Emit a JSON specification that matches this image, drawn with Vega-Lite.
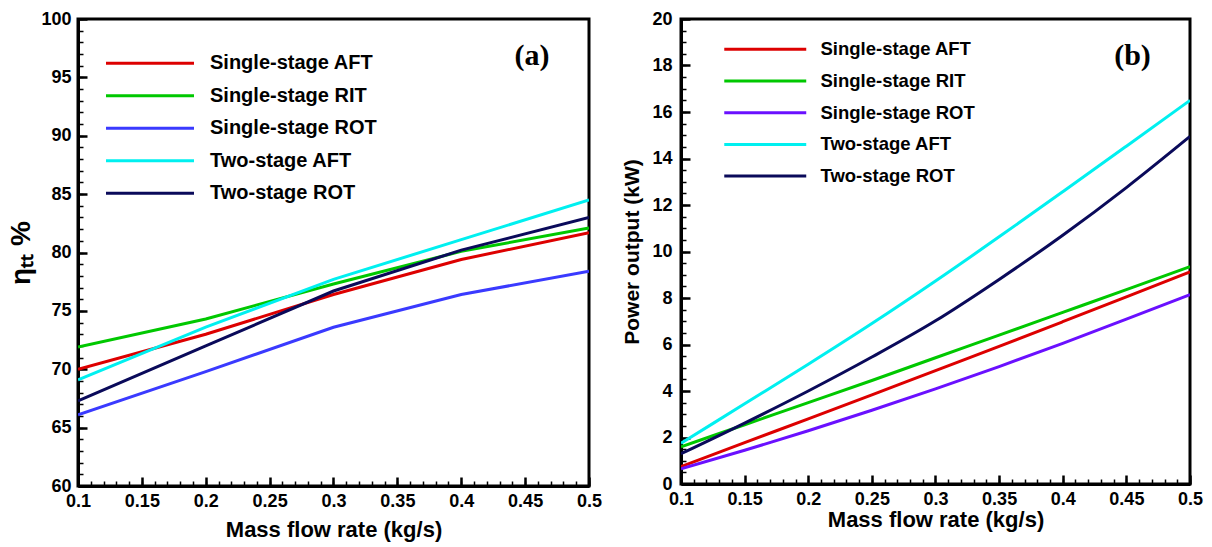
{
  "$schema": "https://vega.github.io/schema/vega-lite/v6.json",
  "background": "white",
  "padding": {"left": 6, "top": 8, "right": 0, "bottom": 0},
  "spacing": 16,
  "config": {
    "view": {"stroke": "black", "strokeWidth": 3},
    "axis": {
      "domainColor": "black", "domainWidth": 3, "tickColor": "black", "grid": false,
      "labelFont": "Liberation Sans", "labelFontWeight": "bold", "labelFontSize": 18, "labelColor": "black",
      "titleFont": "Liberation Sans", "titleFontWeight": "bold", "titleColor": "black",
      "labelOverlap": false, "labelFlush": false
    },
    "legend": {
      "symbolStrokeWidth": 3, "labelFont": "Liberation Sans", "labelFontWeight": "bold",
      "labelColor": "black", "padding": 0, "labelLimit": 400
    }
  },
  "datasets": {
    "eff": [
      {"series": "Single-stage AFT", "m": 0.1, "v": 70.0}, {"series": "Single-stage AFT", "m": 0.2, "v": 73.0}, {"series": "Single-stage AFT", "m": 0.3, "v": 76.4}, {"series": "Single-stage AFT", "m": 0.4, "v": 79.4}, {"series": "Single-stage AFT", "m": 0.5, "v": 81.7},
      {"series": "Single-stage RIT", "m": 0.1, "v": 71.9}, {"series": "Single-stage RIT", "m": 0.2, "v": 74.3}, {"series": "Single-stage RIT", "m": 0.3, "v": 77.3}, {"series": "Single-stage RIT", "m": 0.4, "v": 80.1}, {"series": "Single-stage RIT", "m": 0.5, "v": 82.1},
      {"series": "Single-stage ROT", "m": 0.1, "v": 66.1}, {"series": "Single-stage ROT", "m": 0.2, "v": 69.8}, {"series": "Single-stage ROT", "m": 0.3, "v": 73.6}, {"series": "Single-stage ROT", "m": 0.4, "v": 76.4}, {"series": "Single-stage ROT", "m": 0.5, "v": 78.4},
      {"series": "Two-stage AFT", "m": 0.1, "v": 69.1}, {"series": "Two-stage AFT", "m": 0.2, "v": 73.6}, {"series": "Two-stage AFT", "m": 0.3, "v": 77.7}, {"series": "Two-stage AFT", "m": 0.4, "v": 81.1}, {"series": "Two-stage AFT", "m": 0.5, "v": 84.5},
      {"series": "Two-stage ROT", "m": 0.1, "v": 67.3}, {"series": "Two-stage ROT", "m": 0.2, "v": 72.0}, {"series": "Two-stage ROT", "m": 0.3, "v": 76.7}, {"series": "Two-stage ROT", "m": 0.4, "v": 80.2}, {"series": "Two-stage ROT", "m": 0.5, "v": 83.0}
    ],
    "power": [
      {"series": "Single-stage AFT", "m": 0.1, "p": 0.75}, {"series": "Single-stage AFT", "m": 0.15, "p": 1.78}, {"series": "Single-stage AFT", "m": 0.2, "p": 2.8}, {"series": "Single-stage AFT", "m": 0.25, "p": 3.83}, {"series": "Single-stage AFT", "m": 0.3, "p": 4.88}, {"series": "Single-stage AFT", "m": 0.35, "p": 5.92}, {"series": "Single-stage AFT", "m": 0.4, "p": 6.98}, {"series": "Single-stage AFT", "m": 0.45, "p": 8.05}, {"series": "Single-stage AFT", "m": 0.5, "p": 9.12},
      {"series": "Single-stage RIT", "m": 0.1, "p": 1.6}, {"series": "Single-stage RIT", "m": 0.15, "p": 2.55}, {"series": "Single-stage RIT", "m": 0.2, "p": 3.5}, {"series": "Single-stage RIT", "m": 0.25, "p": 4.45}, {"series": "Single-stage RIT", "m": 0.3, "p": 5.43}, {"series": "Single-stage RIT", "m": 0.35, "p": 6.4}, {"series": "Single-stage RIT", "m": 0.4, "p": 7.38}, {"series": "Single-stage RIT", "m": 0.45, "p": 8.36}, {"series": "Single-stage RIT", "m": 0.5, "p": 9.35},
      {"series": "Single-stage ROT", "m": 0.1, "p": 0.65}, {"series": "Single-stage ROT", "m": 0.15, "p": 1.45}, {"series": "Single-stage ROT", "m": 0.2, "p": 2.29}, {"series": "Single-stage ROT", "m": 0.25, "p": 3.17}, {"series": "Single-stage ROT", "m": 0.3, "p": 4.09}, {"series": "Single-stage ROT", "m": 0.35, "p": 5.05}, {"series": "Single-stage ROT", "m": 0.4, "p": 6.05}, {"series": "Single-stage ROT", "m": 0.45, "p": 7.09}, {"series": "Single-stage ROT", "m": 0.5, "p": 8.14},
      {"series": "Two-stage AFT", "m": 0.1, "p": 1.75}, {"series": "Two-stage AFT", "m": 0.15, "p": 3.45}, {"series": "Two-stage AFT", "m": 0.2, "p": 5.15}, {"series": "Two-stage AFT", "m": 0.25, "p": 6.9}, {"series": "Two-stage AFT", "m": 0.3, "p": 8.73}, {"series": "Two-stage AFT", "m": 0.35, "p": 10.63}, {"series": "Two-stage AFT", "m": 0.4, "p": 12.57}, {"series": "Two-stage AFT", "m": 0.45, "p": 14.53}, {"series": "Two-stage AFT", "m": 0.5, "p": 16.5},
      {"series": "Two-stage ROT", "m": 0.1, "p": 1.3}, {"series": "Two-stage ROT", "m": 0.15, "p": 2.62}, {"series": "Two-stage ROT", "m": 0.2, "p": 4.0}, {"series": "Two-stage ROT", "m": 0.25, "p": 5.46}, {"series": "Two-stage ROT", "m": 0.3, "p": 7.02}, {"series": "Two-stage ROT", "m": 0.35, "p": 8.8}, {"series": "Two-stage ROT", "m": 0.4, "p": 10.7}, {"series": "Two-stage ROT", "m": 0.45, "p": 12.75}, {"series": "Two-stage ROT", "m": 0.5, "p": 14.95}
    ]
  },
  "resolve": {"scale": {"color": "independent"}},
  "hconcat": [
    {
      "width": 511, "height": 467,
      "resolve": {"axis": {"x": "independent", "y": "independent"}},
      "layer": [
        {
          "data": {"name": "eff"},
          "mark": {"type": "line", "strokeWidth": 3, "clip": true},
          "encoding": {
            "x": {"field": "m", "type": "quantitative", "title": "Mass flow rate (kg/s)",
              "scale": {"domain": [0.1, 0.5], "nice": false, "zero": false},
              "axis": {
                "orient": "bottom",
                "values": [0.1,0.15,0.2,0.25,0.3,0.35,0.4,0.45,0.5],
                "labelExpr": "toString(round(datum.value*100)/100)",
                "labelOverlap": false, "labelFlush": false,
                "tickSize": -9, "tickWidth": 2.5,
                "labelPadding": 15, "titleFontSize": 22, "titlePadding": 9
              }
            },
            "y": {"field": "v", "type": "quantitative", "title": "ηₜₜ %",
              "scale": {"domain": [60, 100], "nice": false, "zero": false},
              "axis": {
                "orient": "left",
                "values": [60,65,70,75,80,85,90,95,100],
                "labelOverlap": false, "labelFlush": false,
                "tickSize": -9, "tickWidth": 2.5,
                "labelPadding": 16, "titleFontSize": 28, "titlePadding": 5
              }
            },
            "color": {"field": "series", "type": "nominal",
              "scale": {"domain": ["Single-stage AFT", "Single-stage RIT", "Single-stage ROT", "Two-stage AFT", "Two-stage ROT"],
                        "range": ["#dd0000", "#00c800", "#3a3aff", "#00f0f0", "#0a0a5a"]},
              "legend": {"title": null, "orient": "none", "legendX": 59.5, "legendY": 31.7, "symbolType": "M-4,0H4", "symbolSize": 484, "labelFontSize": 20, "labelOffset": 47.5, "rowPadding": 9.5}
            }
          }
        },
        {
          "data": {"values": [{}]},
          "mark": {"type": "text", "text": "(a)", "font": "Liberation Serif", "fontWeight": "bold", "fontSize": 30, "color": "black", "align": "center", "baseline": "middle"},
          "encoding": {
            "x": {"datum": 0.4554, "type": "quantitative", "title": null,
              "axis": {"orient": "bottom", "values": [0.1,0.11,0.12,0.13,0.14,0.15,0.16,0.17,0.18,0.19,0.2,0.21,0.22,0.23,0.24,0.25,0.26,0.27,0.28,0.29,0.3,0.31,0.32,0.33,0.34,0.35,0.36,0.37,0.38,0.39,0.4,0.41,0.42,0.43,0.44,0.45,0.46,0.47,0.48,0.49,0.5],
                "labels": false, "domain": false, "tickSize": -5, "tickWidth": 1.5}},
            "y": {"datum": 96.8, "type": "quantitative", "title": null,
              "axis": {"orient": "left", "values": [60,61,62,63,64,65,66,67,68,69,70,71,72,73,74,75,76,77,78,79,80,81,82,83,84,85,86,87,88,89,90,91,92,93,94,95,96,97,98,99,100],
                "labels": false, "domain": false, "tickSize": -5, "tickWidth": 1.5}}
          }
        }
      ]
    },
    {
      "width": 509, "height": 465,
      "resolve": {"axis": {"x": "independent", "y": "independent"}},
      "layer": [
        {
          "data": {"name": "power"},
          "mark": {"type": "line", "strokeWidth": 3, "clip": true, "interpolate": "monotone"},
          "encoding": {
            "x": {"field": "m", "type": "quantitative", "title": "Mass flow rate (kg/s)",
              "scale": {"domain": [0.1, 0.5], "nice": false, "zero": false},
              "axis": {
                "orient": "bottom",
                "values": [0.1,0.15,0.2,0.25,0.3,0.35,0.4,0.45,0.5],
                "labelExpr": "toString(round(datum.value*100)/100)",
                "labelOverlap": false, "labelFlush": false,
                "tickSize": -9, "tickWidth": 2.5,
                "labelPadding": 15, "titleFontSize": 22, "titlePadding": 1
              }
            },
            "y": {"field": "p", "type": "quantitative", "title": "Power output (kW)",
              "scale": {"domain": [0, 20], "nice": false, "zero": false},
              "axis": {
                "orient": "left",
                "values": [0,2,4,6,8,10,12,14,16,18,20],
                "labelOverlap": false, "labelFlush": false,
                "tickSize": -9, "tickWidth": 2.5,
                "labelPadding": 18, "titleFontSize": 21, "titlePadding": 9
              }
            },
            "color": {"field": "series", "type": "nominal",
              "scale": {"domain": ["Single-stage AFT", "Single-stage RIT", "Single-stage ROT", "Two-stage AFT", "Two-stage ROT"],
                        "range": ["#dd0000", "#00c800", "#6a10ff", "#00f0f0", "#0a0a5a"]},
              "legend": {"title": null, "orient": "none", "legendX": 72.25, "legendY": 18.3, "symbolType": "M-4,0H4", "symbolSize": 420, "labelFontSize": 18.5, "labelOffset": 43.25, "rowPadding": 9.7}
            }
          }
        },
        {
          "data": {"values": [{}]},
          "mark": {"type": "text", "text": "(b)", "font": "Liberation Serif", "fontWeight": "bold", "fontSize": 30, "color": "black", "align": "center", "baseline": "middle"},
          "encoding": {
            "x": {"datum": 0.4548, "type": "quantitative", "title": null,
              "axis": {"orient": "bottom", "values": [0.1,0.11,0.12,0.13,0.14,0.15,0.16,0.17,0.18,0.19,0.2,0.21,0.22,0.23,0.24,0.25,0.26,0.27,0.28,0.29,0.3,0.31,0.32,0.33,0.34,0.35,0.36,0.37,0.38,0.39,0.4,0.41,0.42,0.43,0.44,0.45,0.46,0.47,0.48,0.49,0.5],
                "labels": false, "domain": false, "tickSize": -5, "tickWidth": 1.5}},
            "y": {"datum": 18.39, "type": "quantitative", "title": null,
              "axis": {"orient": "left", "values": [0,0.5,1,1.5,2,2.5,3,3.5,4,4.5,5,5.5,6,6.5,7,7.5,8,8.5,9,9.5,10,10.5,11,11.5,12,12.5,13,13.5,14,14.5,15,15.5,16,16.5,17,17.5,18,18.5,19,19.5,20],
                "labels": false, "domain": false, "tickSize": -5, "tickWidth": 1.5}}
          }
        }
      ]
    }
  ]
}
